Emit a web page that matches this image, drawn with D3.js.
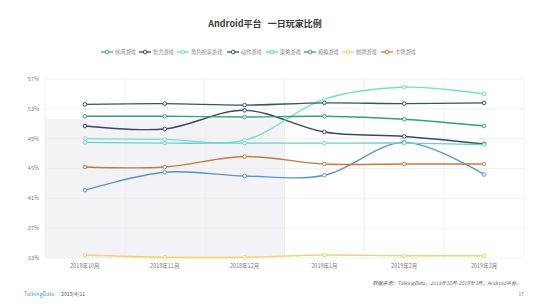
<!DOCTYPE html>
<html>
<head>
<meta charset="utf-8">
<script src="https://cdn.jsdelivr.net/npm/d3@7"></script>
<style>
  html, body { margin: 0; padding: 0; background: #fff; }
  svg { display: block; font-family: "Noto Sans CJK SC", "Noto Sans", sans-serif; }
</style>
</head>
<body>
<svg id="chart" width="550" height="308"></svg>
<script>
// categories and tick labels
var months = ['2018年10月', '2018年11月', '2018年12月', '2019年1月', '2019年2月', '2019年3月'];
var yTicks = [33, 37, 41, 45, 49, 53, 57];

// series (share of daily players, %)
var casual   = [42.1, 44.5, 44.0, 44.1, 48.5, 44.2];   // 休闲游戏
var puzzle   = [50.7, 50.3, 52.8, 49.9, 49.3, 48.3];   // 智力游戏
var rpg      = [49.0, 48.9, 48.8, 54.3, 55.9, 55.0];   // 角色扮演游戏
var action   = [53.6, 53.7, 53.5, 53.8, 53.7, 53.8];   // 动作游戏
var strategy = [48.5, 48.4, 48.4, 48.4, 48.4, 48.2];   // 策略游戏
var simul    = [52.0, 52.0, 51.9, 52.0, 51.6, 50.7];   // 模拟游戏
var chess    = [33.4, 33.1, 33.1, 33.4, 33.3, 33.3];   // 棋牌游戏
var cards    = [45.2, 45.2, 46.6, 45.6, 45.6, 45.6];   // 卡牌游戏

var seriesNames = ['休闲游戏', '智力游戏', '角色扮演游戏', '动作游戏', '策略游戏', '模拟游戏', '棋牌游戏', '卡牌游戏'];
var seriesValues = [casual, puzzle, rpg, action, strategy, simul, chess, cards];
var seriesColors = ['#5b93c7', '#3c465e', '#6fe2c3', '#2d5c55', '#5ed5d5', '#3b9d77', '#f0d36a', '#c47a3f'];

var svg = d3.select('#chart');
var margin = {left: 45, right: 26, top: 79, bottom: 50};
var width = 550 - margin.left - margin.right;
var height = 308 - margin.top - margin.bottom;

var x = d3.scaleBand().domain(months).range([0, width]);
var y = d3.scaleLinear().domain([33, 57]).range([height, 0]);

var g = svg.append('g').attr('transform', 'translate(' + margin.left + ',' + margin.top + ')');

// title
svg.append('text')
	.attr('x', 265).attr('y', 27)
	.attr('text-anchor', 'middle')
	.attr('font-size', 9)
	.attr('font-weight', 'bold')
	.attr('fill', '#3a3a3a')
	.text('Android平台\u00a0\u00a0\u00a0一日玩家比例');

// legend
var legendX = [101, 139, 177, 227, 266, 304, 342, 381];
var legend = svg.append('g').selectAll('g')
	.data(seriesNames)
	.enter().append('g')
	.attr('transform', function(d, i) { return 'translate(' + legendX[i] + ',52)'; });
legend.append('line')
	.attr('x1', 0).attr('x2', 12)
	.attr('stroke', function(d, i) { return seriesColors[i]; })
	.attr('stroke-width', 1.3);
legend.append('circle')
	.attr('cx', 6).attr('r', 1.8)
	.attr('fill', '#fff')
	.attr('stroke', function(d, i) { return seriesColors[i]; })
	.attr('stroke-width', 1);
legend.append('text')
	.attr('x', 14).attr('dy', '0.35em')
	.attr('font-size', 5.2)
	.attr('fill', '#888')
	.text(function(d) { return d; });

// highlighted region
g.append('rect')
	.attr('x', 0)
	.attr('y', y(51.6))
	.attr('width', x(months[3]))
	.attr('height', height - y(51.6))
	.attr('fill', '#f3f2f6');

// grid
g.append('g').selectAll('line')
	.data(yTicks)
	.enter().append('line')
	.attr('x1', 0).attr('x2', width)
	.attr('y1', function(d) { return y(d); })
	.attr('y2', function(d) { return y(d); })
	.attr('stroke', '#ececec')
	.attr('stroke-width', 0.8);

g.append('g').selectAll('line')
	.data(months.concat(['end']))
	.enter().append('line')
	.attr('x1', function(d, i) { return i * x.bandwidth(); })
	.attr('x2', function(d, i) { return i * x.bandwidth(); })
	.attr('y1', 0).attr('y2', height)
	.attr('stroke', '#ececec')
	.attr('stroke-width', 0.8);

// y labels
g.append('g').selectAll('text')
	.data(yTicks)
	.enter().append('text')
	.attr('x', -6)
	.attr('y', function(d) { return y(d); })
	.attr('dy', '0.35em')
	.attr('text-anchor', 'end')
	.attr('font-size', 5.5)
	.attr('fill', '#777')
	.text(function(d) { return d + '%'; });

// x labels
g.append('g').selectAll('text')
	.data(months)
	.enter().append('text')
	.attr('x', function(d) { return x(d) + x.bandwidth() / 2; })
	.attr('y', height + 10)
	.attr('text-anchor', 'middle')
	.attr('font-size', 5.5)
	.attr('fill', '#777')
	.text(function(d) { return d; });

// lines
var line = d3.line()
	.x(function(d, i) { return x(months[i]) + x.bandwidth() / 2; })
	.y(function(d) { return y(d); })
	.curve(d3.curveCatmullRom.alpha(0.5));

seriesValues.forEach(function(vals, k) {
	g.append('path')
		.datum(vals)
		.attr('d', line)
		.attr('fill', 'none')
		.attr('stroke', seriesColors[k])
		.attr('stroke-width', 1.4);
	g.append('g').selectAll('circle')
		.data(vals)
		.enter().append('circle')
		.attr('cx', function(d, i) { return x(months[i]) + x.bandwidth() / 2; })
		.attr('cy', function(d) { return y(d); })
		.attr('r', 1.8)
		.attr('fill', '#fff')
		.attr('stroke', seriesColors[k])
		.attr('stroke-width', 1);
});

// footer
svg.append('text')
	.attr('x', 24).attr('y', 296)
	.attr('font-size', 5.5)
	.attr('fill', '#3aa0d8')
	.text('TalkingData');
svg.append('text')
	.attr('x', 61).attr('y', 296)
	.attr('font-size', 5.2)
	.attr('fill', '#555')
	.text('2019/4/11');
svg.append('text')
	.attr('x', 521).attr('y', 285)
	.attr('text-anchor', 'end')
	.attr('font-size', 5)
	.attr('font-style', 'italic')
	.attr('fill', '#666')
	.text('数据来源：TalkingData，2018年10月-2019年3月，Android平台。');
svg.append('text')
	.attr('x', 524).attr('y', 296)
	.attr('text-anchor', 'end')
	.attr('font-size', 5)
	.attr('fill', '#666')
	.text('17');
</script>
</body>
</html>
